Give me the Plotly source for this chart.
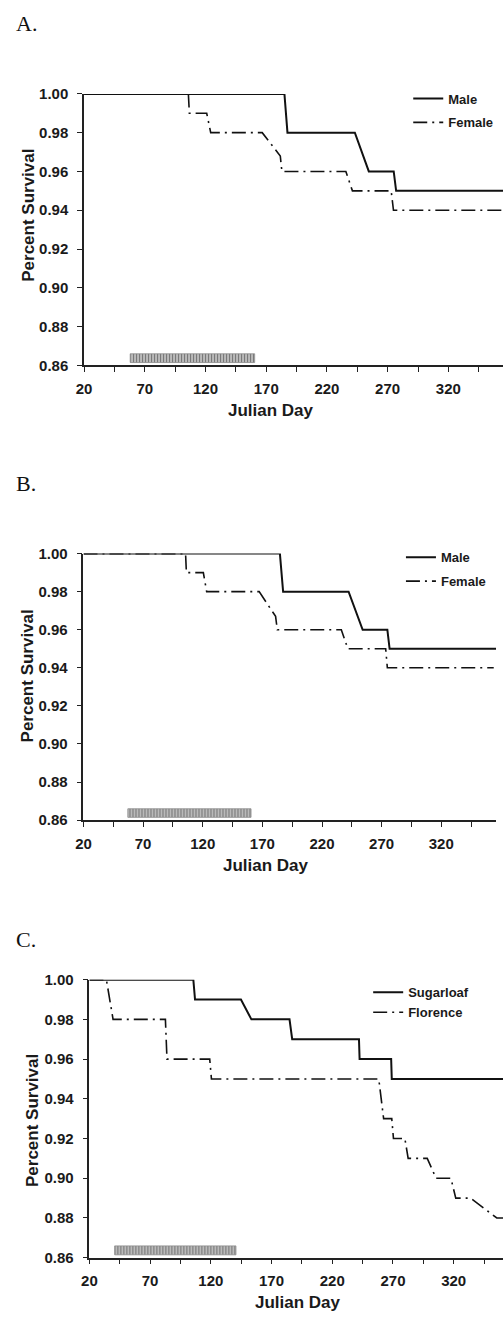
import plotly.graph_objects as go

W, H = 503, 1319

# ---------------- data ----------------
# Panel A
male_days_A = [20, 185, 187.5, 243, 254.5, 275, 277, 365]
male_surv_A = [1.00, 1.00, 0.98, 0.98, 0.96, 0.96, 0.95, 0.95]
female_days_A = [20, 105.9, 106.7, 121, 124.3, 166.7, 181.6, 182.9, 235.6, 241, 272.9, 274.8, 365]
female_surv_A = [1.00, 1.00, 0.99, 0.99, 0.98, 0.98, 0.968, 0.96, 0.96, 0.95, 0.95, 0.94, 0.94]
period_A = [58, 160.5]          # hatched bar start / end (Julian day)

# Panel B
male_days_B = [20, 184.7, 187.4, 242.3, 254.1, 274.8, 276.7, 366]
male_surv_B = [1.00, 1.00, 0.98, 0.98, 0.96, 0.96, 0.95, 0.95]
female_days_B = [20, 105.6, 106.3, 120.5, 123.3, 167.3, 181.1, 182.5, 236.2, 241.7, 273.4, 274.8, 364]
female_surv_B = [1.00, 1.00, 0.99, 0.99, 0.98, 0.98, 0.967, 0.96, 0.96, 0.95, 0.95, 0.94, 0.94]
period_B = [57.2, 160.5]

# Panel C
sugar_days = [20, 105.6, 107, 144.8, 153.4, 184.8, 187, 242, 242.5, 268.5, 269, 361]
sugar_surv = [1.00, 1.00, 0.99, 0.99, 0.98, 0.98, 0.97, 0.97, 0.96, 0.96, 0.95, 0.95]
flor_days = [20, 34, 39.5, 82.6, 83.9, 119.1, 120.5, 258.3, 262.3, 269, 270.4, 279.8, 282.5,
             298.2, 305.5, 317.7, 321.7, 334, 355.5, 361]
flor_surv = [1.00, 1.00, 0.98, 0.98, 0.96, 0.96, 0.95, 0.95, 0.93, 0.93, 0.92, 0.92, 0.91,
             0.91, 0.90, 0.90, 0.89, 0.89, 0.88, 0.88]
period_C = [40.8, 140.7]

bar_level = 0.8637
bar_thick = 0.0045

x_ticks = [20, 70, 120, 170, 220, 270, 320]
x_minor = [45, 95, 145, 195, 245, 295, 345]
y_ticks = [0.86, 0.88, 0.90, 0.92, 0.94, 0.96, 0.98, 1.00]

# ---------------- layout helpers ----------------
def px_x(p):
    return p / W

def px_y(p):
    return 1 - p / H

FONT = "Liberation Sans, Arial, sans-serif"
DASHDOT = "14px,5px,2px,5px"

fig = go.Figure()

panels = [
    dict(ax="", leg="legend", s1=("Male", male_days_A, male_surv_A),
         s2=("Female", female_days_A, female_surv_A), period=period_A),
    dict(ax="2", leg="legend2", s1=("Male", male_days_B, male_surv_B),
         s2=("Female", female_days_B, female_surv_B), period=period_B),
    dict(ax="3", leg="legend3", s1=("Sugarloaf", sugar_days, sugar_surv),
         s2=("Florence", flor_days, flor_surv), period=period_C),
]

for i, p in enumerate(panels):
    xa = "x" + p["ax"]
    ya = "y" + p["ax"]
    fig.add_trace(go.Bar(
        x=[p["period"][1] - p["period"][0]], base=[p["period"][0]], y=[bar_level],
        orientation="h", width=bar_thick, xaxis=xa, yaxis=ya, showlegend=False,
        marker=dict(color="#b8b8b8", line=dict(color="#8a8a8a", width=0.8),
                    pattern=dict(shape="|", fgcolor="#202020", bgcolor="#c8c8c8",
                                 size=3, solidity=0.45, fillmode="overlay")),
        hoverinfo="skip"))
    name, xs, ys = p["s1"]
    fig.add_trace(go.Scatter(x=xs, y=ys, mode="lines", name=name, xaxis=xa, yaxis=ya,
                             line=dict(color="#111111", width=2), legend=p["leg"],
                             legendgroup=f"g{i}a"))
    name, xs, ys = p["s2"]
    fig.add_trace(go.Scatter(x=xs, y=ys, mode="lines", name=name, xaxis=xa, yaxis=ya,
                             line=dict(color="#111111", width=1.6, dash=DASHDOT),
                             legend=p["leg"], legendgroup=f"g{i}b"))

# axis geometry (pixels)
geo = [
    dict(left=77.3, right=503, top=86, bottom=361, xr=[20, 365]),
    dict(left=76.7, right=496, top=551.7, bottom=821.7, xr=[20, 366]),
    dict(left=82.7, right=503, top=983.3, bottom=1265, xr=[20, 360.6]),
]

tickfont = dict(family=FONT, size=15, color="#1a1a1a", weight="bold")
for i, g in enumerate(geo):
    sfx = "" if i == 0 else str(i + 1)
    fig.layout["xaxis" + sfx] = dict(
        domain=[px_x(g["left"]), px_x(g["right"])], range=g["xr"],
        anchor="y" + sfx, tickmode="array", tickvals=x_ticks,
        ticks="outside", ticklen=5, tickwidth=1.3, tickcolor="#222",
        minor=dict(tickmode="array", tickvals=x_minor,
                   ticks="outside", ticklen=5, tickwidth=1.3, tickcolor="#222"),
        showline=True, linecolor="#222", linewidth=1.5, showgrid=False, zeroline=False,
        tickfont=tickfont, ticklabelstandoff=4)
    fig.layout["yaxis" + sfx] = dict(
        domain=[px_y(g["bottom"]), px_y(g["top"])], range=[0.86, 1.0],
        anchor="x" + sfx, tickmode="array", tickvals=y_ticks, tickformat=".2f",
        ticks="outside", ticklen=5, tickwidth=1.3, tickcolor="#222",
        showline=True, linecolor="#222", linewidth=1.5, showgrid=False, zeroline=False,
        tickfont=tickfont, ticklabelstandoff=6)

legfont = dict(family=FONT, size=13, color="#1a1a1a", weight="bold")
fig.update_layout(
    legend=dict(x=px_x(406.7), y=px_y(75.5), xanchor="left", yanchor="top",
                font=legfont, bgcolor="rgba(0,0,0,0)", tracegroupgap=4),
    legend2=dict(x=px_x(399.3), y=px_y(540.2), xanchor="left", yanchor="top",
                 font=legfont, bgcolor="rgba(0,0,0,0)", tracegroupgap=4),
    legend3=dict(x=px_x(366), y=px_y(981), xanchor="left", yanchor="top",
                 font=legfont, bgcolor="rgba(0,0,0,0)", tracegroupgap=0),
)

annotations = []
# panel letters
for lbl, yc in [("A.", 14.5), ("B.", 480.5), ("C.", 942.5)]:
    annotations.append(dict(text=lbl, x=px_x(6), y=px_y(yc), xref="paper", yref="paper",
                            xanchor="left", yanchor="middle", showarrow=False,
                            font=dict(family="Liberation Serif, Times New Roman, serif",
                                      size=22, color="#111")))
# y titles
for xc, yc in [(20.8, 209), (20.8, 675.7), (24.2, 1125.7)]:
    annotations.append(dict(text="Percent Survival", x=px_x(xc), y=px_y(yc), xref="paper",
                            yref="paper", xanchor="center", yanchor="middle", textangle=-90,
                            showarrow=False,
                            font=dict(family=FONT, size=17, color="#1a1a1a", weight="bold")))
# x titles
for xc, yc in [(267.7, 406.5), (262.5, 867.2), (295, 1310.5)]:
    annotations.append(dict(text="Julian Day", x=px_x(xc), y=px_y(yc), xref="paper",
                            yref="paper", xanchor="center", yanchor="middle", showarrow=False,
                            font=dict(family=FONT, size=17, color="#1a1a1a", weight="bold")))

fig.update_layout(width=W, height=H, margin=dict(l=0, r=0, t=0, b=0),
                  paper_bgcolor="white", plot_bgcolor="white",
                  annotations=annotations, barmode="overlay")

fig.write_html("out.html",
               config={"displayModeBar": False},
               post_script="document.body.style.margin='0';document.body.style.padding='0';"
                           "document.body.style.overflow='hidden';")
